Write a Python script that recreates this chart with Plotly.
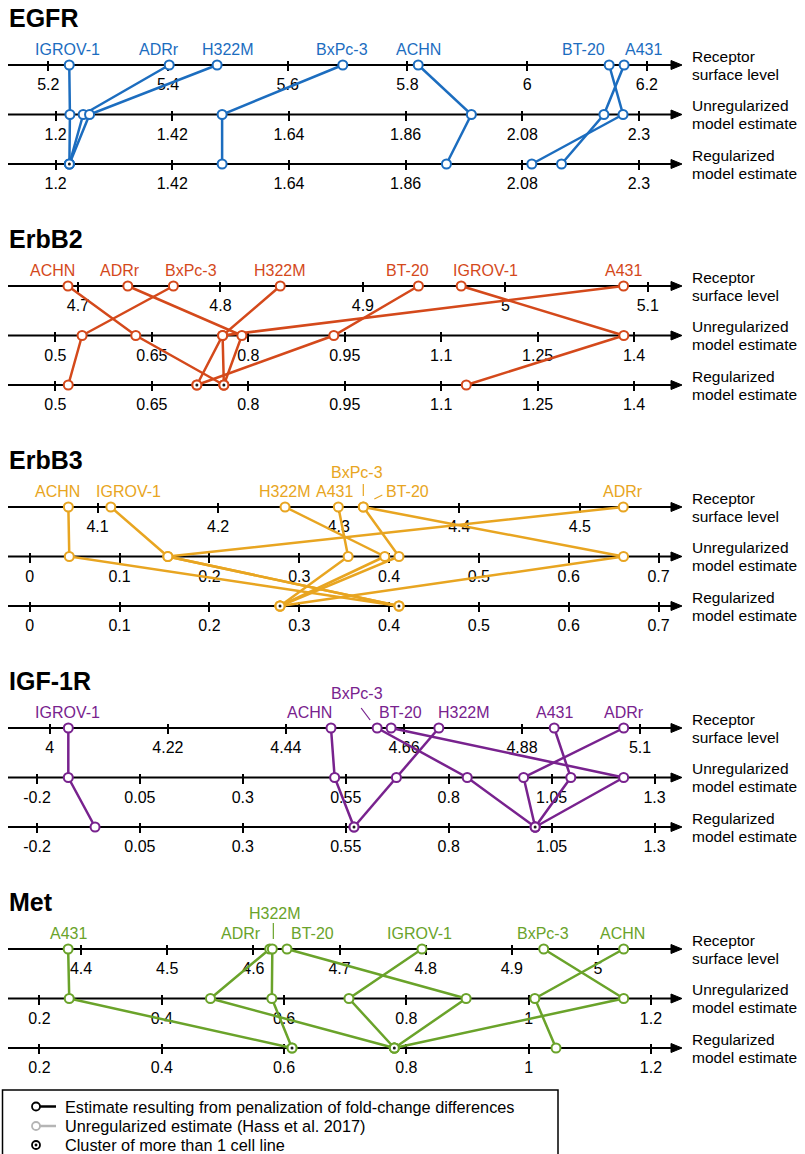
import plotly.graph_objects as go

# ---------------- data ----------------
CELL_LINES = ["IGROV-1", "ADRr", "H322M", "BxPc-3", "ACHN", "BT-20", "A431"]
ROW_NAMES = [("Receptor", "surface level"),
             ("Unregularized", "model estimate"),
             ("Regularized", "model estimate")]

# EGFR
EGFR_SURFACE = [5.235, 5.402, 5.482, 5.692, 5.818, 6.137, 6.162]
EGFR_UNREG = [1.227, 1.252, 1.264, 1.514, 1.984, 2.270, 2.234]
EGFR_REG = [1.226, 1.226, 1.226, 1.514, 1.937, 2.098, 2.154]
EGFR_SURFACE_TICKS = [5.2, 5.4, 5.6, 5.8, 6.0, 6.2]
EGFR_MODEL_TICKS = [1.2, 1.42, 1.64, 1.86, 2.08, 2.3]
EGFR_SURFACE_RANGE = [5.136, 6.247]
EGFR_MODEL_RANGE = [1.114, 2.368]

# ErbB2
ERBB2_SURFACE = [4.969, 4.735, 4.842, 4.767, 4.693, 4.939, 5.083]
ERBB2_UNREG = [1.384, 0.790, 0.760, 0.5415, 0.625, 0.933, 0.760]
ERBB2_REG = [1.139, 0.762, 0.762, 0.520, 0.762, 0.720, 0.720]
ERBB2_SURFACE_TICKS = [4.7, 4.8, 4.9, 5.0, 5.1]
ERBB2_MODEL_TICKS = [0.5, 0.65, 0.8, 0.95, 1.1, 1.25, 1.4]
ERBB2_SURFACE_RANGE = [4.6523, 5.1191]
ERBB2_MODEL_RANGE = [0.4294, 1.4636]

# ErbB3
ERBB3_SURFACE = [4.111, 4.536, 4.2555, 4.3204, 4.0758, 4.3204, 4.2997]
ERBB3_UNREG = [0.1537, 0.1537, 0.3952, 0.411, 0.044, 0.661, 0.3544]
ERBB3_REG = [0.411, 0.411, 0.2786, 0.2786, 0.411, 0.2786, 0.2786]
ERBB3_SURFACE_TICKS = [4.1, 4.2, 4.3, 4.4, 4.5]
ERBB3_MODEL_TICKS = [0, 0.1, 0.2, 0.3, 0.4, 0.5, 0.6, 0.7]
ERBB3_SURFACE_RANGE = [4.0274, 4.5789]
ERBB3_MODEL_RANGE = [-0.022, 0.7183]

# IGF-1R
IGF1R_SURFACE = [4.0345, 5.0695, 4.725, 4.610, 4.524, 4.636, 4.940]
IGF1R_UNREG = [-0.124, 0.982, 0.673, 0.845, 0.523, 1.225, 1.0966]
IGF1R_REG = [-0.059, 1.010, 0.570, 1.010, 0.570, 1.010, 1.010]
IGF1R_SURFACE_TICKS = [4.0, 4.22, 4.44, 4.66, 4.88, 5.1]
IGF1R_MODEL_TICKS = [-0.2, 0.05, 0.3, 0.55, 0.8, 1.05, 1.3]
IGF1R_SURFACE_RANGE = [3.9258, 5.1651]
IGF1R_MODEL_RANGE = [-0.2656, 1.3497]

# Met
MET_SURFACE = [4.7957, 4.619, 4.622, 4.937, 5.0298, 4.639, 4.385]
MET_UNREG = [0.7061, 0.4796, 0.580, 1.1554, 1.0101, 0.8977, 0.2487]
MET_REG = [0.7803, 0.7803, 0.613, 0.7803, 1.0447, 0.7803, 0.613]
MET_SURFACE_TICKS = [4.4, 4.5, 4.6, 4.7, 4.8, 4.9, 5.0]
MET_MODEL_TICKS = [0.2, 0.4, 0.6, 0.8, 1.0, 1.2]
MET_SURFACE_RANGE = [4.3175, 5.0894]
MET_MODEL_RANGE = [0.1518, 1.2393]

LEGEND_TEXTS = ["Estimate resulting from penalization of fold-change differences",
                "Unregularized estimate (Hass et al. 2017)",
                "Cluster of more than 1 cell line"]

# ---------------- style ----------------
COLORS = {"EGFR": "#1c6dbf", "ErbB2": "#d4491b", "ErbB3": "#e8a521",
          "IGF-1R": "#78228e", "Met": "#6aa32a"}

LABEL_NUDGE = {
    "EGFR": {"IGROV-1": -2, "ADRr": -10, "H322M": 11, "BxPc-3": -1, "ACHN": 0, "BT-20": -26, "A431": 19},
    "ErbB2": {"ACHN": -15, "ADRr": -8, "BxPc-3": 18, "H322M": 0, "BT-20": -11, "IGROV-1": 24, "A431": 0},
    "ErbB3": {"ACHN": -11, "IGROV-1": 18, "H322M": 0, "A431": -4, "BxPc-3": -6, "BT-20": 44, "ADRr": 0},
    "IGF-1R": {"IGROV-1": -1, "ACHN": -21, "BxPc-3": -20, "BT-20": 9, "H322M": 25, "A431": 0, "ADRr": 0},
    "Met": {"A431": 0, "ADRr": -29, "H322M": 3, "BT-20": 26, "IGROV-1": -2, "BxPc-3": -1, "ACHN": -1},
}
LABEL_RAISE = {("ErbB3", "BxPc-3"): -35, ("IGF-1R", "BxPc-3"): -35, ("Met", "H322M"): -36}
LEADERS = {("ErbB3", "BxPc-3"): (0, -23, 0, -11),
           ("ErbB3", "BT-20"): (11, -8, 19, -12),
           ("IGF-1R", "BxPc-3"): (-16, -20, -7, -8),
           ("Met", "H322M"): (1, -26, 1, -10)}

FONT = "Liberation Sans, Arial, Helvetica, sans-serif"
W, H = 805, 1154
X_LEFT, X_RIGHT = 10.0, 675.0
LINE_X0, ARROW_TIP = 8.0, 682.0
FIRST_ROW_Y = 65.0
PANEL_STEP = 221.0
ROW_STEP = 49.5
TICK_HALF = 5

panels = [
    dict(name="EGFR", rows=[EGFR_SURFACE, EGFR_UNREG, EGFR_REG],
         ticks=[EGFR_SURFACE_TICKS, EGFR_MODEL_TICKS, EGFR_MODEL_TICKS],
         ranges=[EGFR_SURFACE_RANGE, EGFR_MODEL_RANGE, EGFR_MODEL_RANGE]),
    dict(name="ErbB2", rows=[ERBB2_SURFACE, ERBB2_UNREG, ERBB2_REG],
         ticks=[ERBB2_SURFACE_TICKS, ERBB2_MODEL_TICKS, ERBB2_MODEL_TICKS],
         ranges=[ERBB2_SURFACE_RANGE, ERBB2_MODEL_RANGE, ERBB2_MODEL_RANGE]),
    dict(name="ErbB3", rows=[ERBB3_SURFACE, ERBB3_UNREG, ERBB3_REG],
         ticks=[ERBB3_SURFACE_TICKS, ERBB3_MODEL_TICKS, ERBB3_MODEL_TICKS],
         ranges=[ERBB3_SURFACE_RANGE, ERBB3_MODEL_RANGE, ERBB3_MODEL_RANGE]),
    dict(name="IGF-1R", rows=[IGF1R_SURFACE, IGF1R_UNREG, IGF1R_REG],
         ticks=[IGF1R_SURFACE_TICKS, IGF1R_MODEL_TICKS, IGF1R_MODEL_TICKS],
         ranges=[IGF1R_SURFACE_RANGE, IGF1R_MODEL_RANGE, IGF1R_MODEL_RANGE]),
    dict(name="Met", rows=[MET_SURFACE, MET_UNREG, MET_REG],
         ticks=[MET_SURFACE_TICKS, MET_MODEL_TICKS, MET_MODEL_TICKS],
         ranges=[MET_SURFACE_RANGE, MET_MODEL_RANGE, MET_MODEL_RANGE]),
]


def px(x):
    return x / W


def py(y):
    return 1 - y / H


fig = go.Figure()
layout = dict(
    width=W, height=H, autosize=False,
    margin=dict(l=0, r=0, t=0, b=0),
    paper_bgcolor="white", plot_bgcolor="rgba(0,0,0,0)",
    showlegend=False, font=dict(family=FONT, size=16, color="black"),
    xaxis=dict(domain=[px(X_LEFT), px(X_RIGHT)], range=[0, 1], visible=False, fixedrange=True),
    yaxis=dict(domain=[0, 1], range=[H, 0], visible=False, fixedrange=True),
)
shapes, annotations = [], []
marker_traces = []
axis_n = 2

for p, panel in enumerate(panels):
    color = COLORS[panel["name"]]
    ys = [FIRST_ROW_Y + PANEL_STEP * p + ROW_STEP * k for k in range(3)]
    ax_ids = []
    for k in range(3):
        lo, hi = panel["ranges"][k]
        tv = panel["ticks"][k]
        layout[f"xaxis{axis_n}"] = dict(
            domain=[px(X_LEFT), px(X_RIGHT)], range=[lo, hi], overlaying="x",
            anchor="free", position=py(ys[k] - TICK_HALF),
            tickvals=tv, ticktext=[f"{t:g}" for t in tv],
            ticks="outside", ticklen=2 * TICK_HALF, tickwidth=1.5, tickcolor="black",
            showline=False, showgrid=False, zeroline=False, layer="below traces",
            tickfont=dict(family=FONT, size=16, color="black"), fixedrange=True,
        )
        ax_ids.append(f"x{axis_n}")
        axis_n += 1
        # axis line + arrowhead
        shapes.append(dict(type="line", xref="paper", yref="y", x0=px(LINE_X0), x1=px(ARROW_TIP - 8),
                           y0=ys[k], y1=ys[k], line=dict(color="black", width=2), layer="below"))
        shapes.append(dict(type="path", xref="paper", yref="y", layer="below",
                           path=f"M {px(ARROW_TIP - 11)},{ys[k] - 4.5} L {px(ARROW_TIP)},{ys[k]} "
                                f"L {px(ARROW_TIP - 11)},{ys[k] + 4.5} Z",
                           fillcolor="black", line=dict(color="black", width=1)))
        # row names on the right
        for j, txt in enumerate(ROW_NAMES[k]):
            annotations.append(dict(xref="paper", yref="y", x=px(690), y=ys[k] - 9 + 18 * j,
                                    text=txt, showarrow=False, xanchor="left", yanchor="middle",
                                    font=dict(family=FONT, size=15.5, color="black")))

    # title
    annotations.append(dict(xref="paper", yref="y", x=px(7), y=ys[0] - 47, text=f"<b>{panel['name']}</b>",
                            showarrow=False, xanchor="left", yanchor="middle",
                            font=dict(family=FONT, size=25, color="black")))

    # connecting lines (normalised common axis)
    for i, cell in enumerate(CELL_LINES):
        us = []
        for k in range(3):
            lo, hi = panel["ranges"][k]
            us.append((panel["rows"][k][i] - lo) / (hi - lo))
        fig.add_trace(go.Scatter(x=us, y=ys, mode="lines", xaxis="x", yaxis="y",
                                 line=dict(color=color, width=2.5), hoverinfo="skip"))

    # points on each row axis
    for k in range(3):
        marker_traces.append(go.Scatter(
            x=panel["rows"][k], y=[ys[k]] * len(CELL_LINES), mode="markers",
            xaxis=ax_ids[k], yaxis="y", hoverinfo="skip",
            marker=dict(symbol="circle", size=9, color="white", line=dict(color=color, width=2))))
    reg = panel["rows"][2]
    clusters = sorted({v for v in reg if reg.count(v) > 1})
    if clusters:
        marker_traces.append(go.Scatter(
            x=clusters, y=[ys[2]] * len(clusters), mode="markers", xaxis=ax_ids[2], yaxis="y",
            hoverinfo="skip", marker=dict(symbol="circle", size=3, color="#1a1a1a")))

    # cell-line labels above the surface-level axis
    for i, cell in enumerate(CELL_LINES):
        v = panel["rows"][0][i]
        dy = LABEL_RAISE.get((panel["name"], cell), -16)
        annotations.append(dict(xref=ax_ids[0], yref="y", x=v, y=ys[0] + dy,
                                xshift=LABEL_NUDGE[panel["name"]][cell], text=cell, showarrow=False,
                                xanchor="center", yanchor="middle",
                                font=dict(family=FONT, size=16, color=color)))
        if (panel["name"], cell) in LEADERS:
            dx0, dy0, dx1, dy1 = LEADERS[(panel["name"], cell)]
            shapes.append(dict(type="line", xref=ax_ids[0], xsizemode="pixel", xanchor=v,
                               x0=dx0, x1=dx1, yref="y", y0=ys[0] + dy0, y1=ys[0] + dy1,
                               line=dict(color=color, width=1.2)))

for t in marker_traces:
    fig.add_trace(t)

# ---------------- legend box ----------------
shapes.append(dict(type="rect", xref="paper", yref="paper", x0=px(2.5), x1=px(558), y0=py(1090), y1=-0.02,
                   line=dict(color="black", width=1.5), fillcolor="rgba(0,0,0,0)"))
leg_y = [1106.5, 1126, 1145]
leg_cols = ["black", "#b5b5b5", "black"]
for j, yy in enumerate(leg_y):
    if j < 2:
        shapes.append(dict(type="line", xref="paper", yref="paper", x0=px(38), x1=px(56), y0=py(yy), y1=py(yy),
                           line=dict(color=leg_cols[j], width=2.5)))
    shapes.append(dict(type="circle", xref="paper", yref="paper", x0=px(32), x1=px(40), y0=py(yy - 4),
                       y1=py(yy + 4), line=dict(color=leg_cols[j], width=1.8), fillcolor="white"))
    if j == 2:
        shapes.append(dict(type="circle", xref="paper", yref="paper", x0=px(34.8), x1=px(37.2),
                           y0=py(yy - 1.2), y1=py(yy + 1.2), line=dict(color="black", width=0.5),
                           fillcolor="black"))
    annotations.append(dict(xref="paper", yref="paper", x=px(63), y=py(yy), text=LEGEND_TEXTS[j],
                            showarrow=False, xanchor="left", yanchor="middle",
                            font=dict(family=FONT, size=16.3, color="black")))

layout["shapes"] = shapes
layout["annotations"] = annotations
fig.update_layout(**layout)
fig.write_html("out.html", config={"displayModeBar": False},
               post_script="document.body.style.margin='0';")
